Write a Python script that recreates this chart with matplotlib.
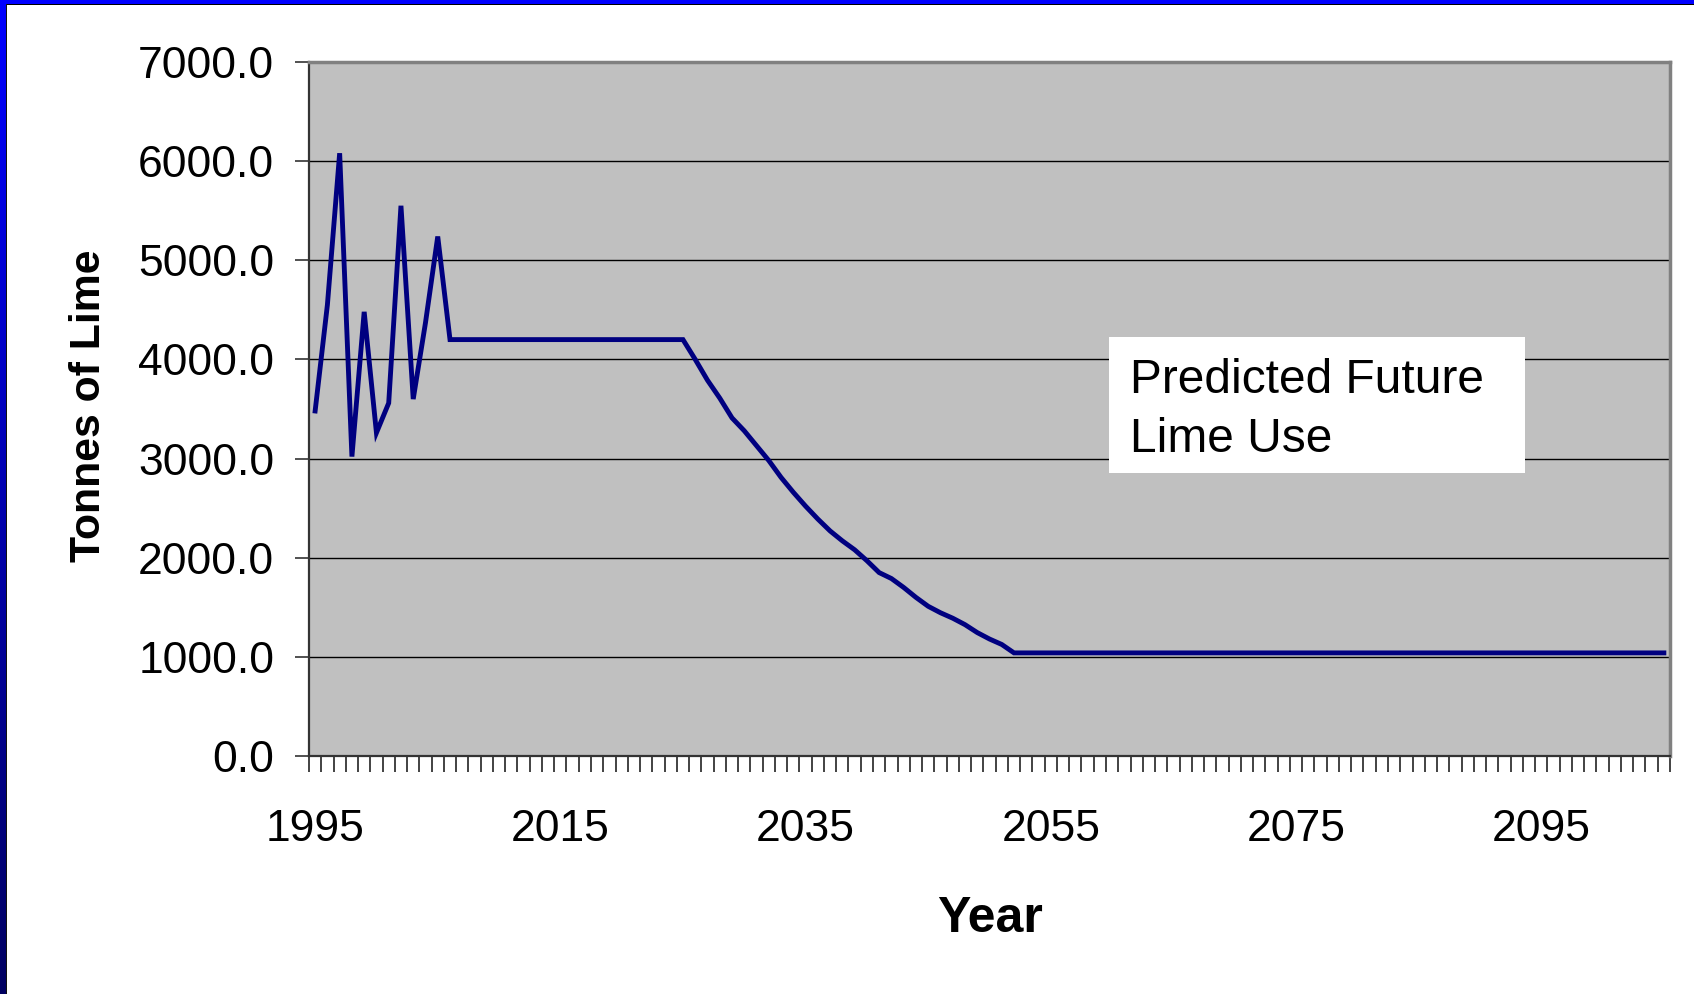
import matplotlib
matplotlib.use("Agg")
import matplotlib.pyplot as plt
import numpy as np
from matplotlib.patches import Rectangle

plt.rcParams['font.family'] = ['Liberation Sans', 'DejaVu Sans']

# ---- data ----
years = list(range(1995, 2106))
lime = [
    3480, 4550, 6080, 3020, 4480, 3260, 3560, 5550, 3600, 4370, 5240,   # 1995-2005
    4200, 4200, 4200, 4200, 4200, 4200, 4200, 4200, 4200, 4200,         # 2006-2015
    4200, 4200, 4200, 4200, 4200, 4200, 4200, 4200, 4200, 4200,         # 2016-2025
    4000, 3790, 3610, 3410, 3280, 3130, 2980, 2810, 2660, 2520,         # 2026-2035
    2390, 2270, 2170, 2080, 1970, 1850, 1790, 1700, 1600, 1510,         # 2036-2045
    1445, 1390, 1325, 1245, 1180, 1125,                                 # 2046-2051
    1040, 1040, 1040, 1040, 1040, 1040, 1040, 1040,                     # 2052-2059
    1040, 1040, 1040, 1040, 1040, 1040, 1040, 1040, 1040, 1040,         # 2060-2069
    1040, 1040, 1040, 1040, 1040, 1040, 1040, 1040, 1040, 1040,         # 2070-2079
    1040, 1040, 1040, 1040, 1040, 1040, 1040, 1040, 1040, 1040,         # 2080-2089
    1040, 1040, 1040, 1040, 1040, 1040, 1040, 1040, 1040, 1040,         # 2090-2099
    1040, 1040, 1040, 1040, 1040, 1040,                                 # 2100-2105
]
year_labels = ["1995", "2015", "2035", "2055", "2075", "2095"]
y_ticks = [0, 1000, 2000, 3000, 4000, 5000, 6000, 7000]
annotation = ["Predicted Future", "Lime Use"]

W, H = 1694, 994
fig = plt.figure(figsize=(W / 100, H / 100), dpi=100)
fig.patch.set_facecolor("white")

# ---- frame decorations (blue borders) ----
fig.add_artist(Rectangle((0, 1 - 4 / H), 1, 4 / H, transform=fig.transFigure,
                         facecolor="#0000ff", edgecolor="none", zorder=0))
fig.add_artist(Rectangle((0, 1 - 5 / H), 1, 1 / H, transform=fig.transFigure,
                         facecolor="#000000", edgecolor="none", zorder=0))
bax = fig.add_axes([0, 0, 5 / W, 1])
grad = np.zeros((200, 1, 3))
grad[:, 0, 2] = np.linspace(1.0, 0.38, 200)
bax.imshow(grad, aspect="auto", extent=[0, 1, 0, 1], origin="upper")
bax.set_axis_off()
fig.add_artist(Rectangle((5 / W, 0), 1.5 / W, 1 - 4 / H, transform=fig.transFigure,
                         facecolor="#111111", edgecolor="none", zorder=0))

# ---- main axes ----
L, R, T, B = 309, 1670, 62, 756
ax = fig.add_axes([L / W, 1 - B / H, (R - L) / W, (B - T) / H])
ax.set_facecolor("#c0c0c0")

x = np.arange(len(years))
ax.plot(x, lime, color="#000080", lw=3.5, solid_joinstyle="miter", zorder=3)

ax.set_xlim(-0.5, len(years) - 0.5)
ax.set_ylim(0, 7000)

ax.set_yticks(y_ticks)
ax.set_yticklabels([f"{v:.1f}" for v in y_ticks], fontsize=32)
ax.yaxis.grid(True, color="black", lw=1.0)
ax.set_axisbelow(True)
ax.tick_params(axis="y", direction="out", length=10, width=1.2, pad=15, color="#333333")

# category boundary ticks (major) and year labels (minor)
ax.set_xticks(np.arange(len(years) + 1) - 0.5)
ax.set_xticklabels([])
ax.tick_params(axis="x", which="major", direction="out", length=11.5, width=1.2, color="#222222")
label_pos = [years.index(int(s)) for s in year_labels]
ax.set_xticks(label_pos, minor=True)
ax.set_xticklabels(year_labels, minor=True, fontsize=32)
ax.tick_params(axis="x", which="minor", length=0, pad=38.5)

for s in ["left", "bottom"]:
    ax.spines[s].set_color("#333333")
    ax.spines[s].set_linewidth(1.6)
for s in ["top", "right"]:
    ax.spines[s].set_color("#808080")
    ax.spines[s].set_linewidth(2.5)

# ---- axis titles ----
fig.text(990 / W, 1 - 919 / H, "Year", fontsize=36, fontweight="bold",
         ha="center", va="center")
fig.text(89 / W, 1 - 406 / H, "Tonnes of Lime", fontsize=30.8, fontweight="bold",
         rotation=90, ha="center", va="center")

# ---- annotation box ----
fig.add_artist(Rectangle((1109 / W, 1 - 473 / H), (1525 - 1109) / W, (473 - 337) / H,
                         transform=fig.transFigure, facecolor="white",
                         edgecolor="none", zorder=5))
fig.text(1130 / W, 1 - 393 / H, annotation[0], fontsize=34.5, ha="left",
         va="baseline", zorder=6)
fig.text(1130 / W, 1 - 452 / H, annotation[1], fontsize=34.5, ha="left",
         va="baseline", zorder=6)

fig.savefig("out.png", dpi=100)
